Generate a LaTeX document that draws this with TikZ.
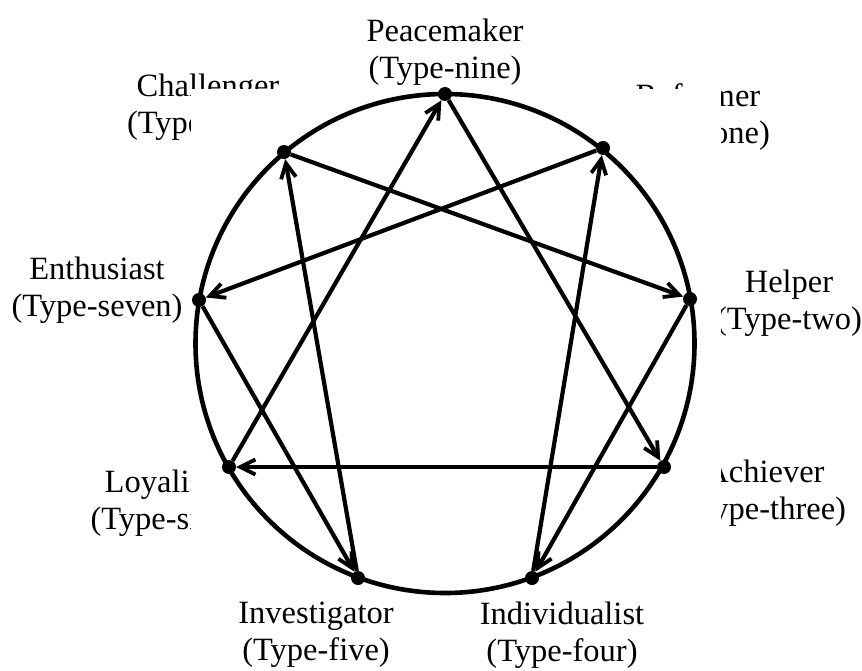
\documentclass[tikz,border=0pt]{standalone}
\usepackage{fontspec}
\setmainfont{Liberation Serif}
\usetikzlibrary{arrows.meta}
\begin{document}
\begin{tikzpicture}[x=1pt,y=-1pt,
  lbl/.style={align=center,font=\fontsize{32.5}{37}\selectfont,inner sep=0pt},
  dot/.style={circle,fill=black,inner sep=0pt,minimum size=14pt},
  arr/.style={line width=4.2pt,-{Straight Barb[length=15pt,width=15pt,line width=3.8pt]}}]
\useasboundingbox (0,0) rectangle (862,671);
% labels
\node[lbl] (l9) at (445,52) {Peacemaker\\(Type-nine)};
\node[lbl] (l8) at (208,107) {Challenger\\(Type-eight)};
\node[lbl] (l1) at (698,117) {Reformer\\(Type-one)};
\node[lbl] (l7) at (97,290) {Enthusiast\\(Type-seven)};
\node[lbl] (l2) at (789,303) {Helper\\(Type-two)};
\node[lbl] (l6) at (158,503) {Loyalist\\(Type-six)};
\node[lbl] (l3) at (765,493) {Achiever\\(Type-three)};
\node[lbl] (l5) at (316,635) {Investigator\\(Type-five)};
\node[lbl] (l4) at (562,635) {Individualist\\(Type-four)};
% white panel of the figure that hides parts of the labels
\fill[white] (191,89) rectangle (721,598);
% circle
\draw[line width=4.6pt] (445,343.5) circle[radius=249.5pt];
% points
\node[dot] (p9) at (445,94) {};
\node[dot] (p1) at (603,148) {};
\node[dot] (p2) at (690,299) {};
\node[dot] (p3) at (664,467) {};
\node[dot] (p4) at (532,578) {};
\node[dot] (p5) at (358,578) {};
\node[dot] (p6) at (229,467) {};
\node[dot] (p7) at (199,300) {};
\node[dot] (p8) at (284,152) {};
% connectors
\draw[arr] (p9) -- (p3);
\draw[arr] (p3) -- (p6);
\draw[arr] (p6) -- (p9);
\draw[arr] (p1) -- (p7);
\draw[arr] (p7) -- (p5);
\draw[arr] (p5) -- (p8);
\draw[arr] (p8) -- (p2);
\draw[arr] (p2) -- (p4);
\draw[arr] (p4) -- (p1);
\end{tikzpicture}
\end{document}
